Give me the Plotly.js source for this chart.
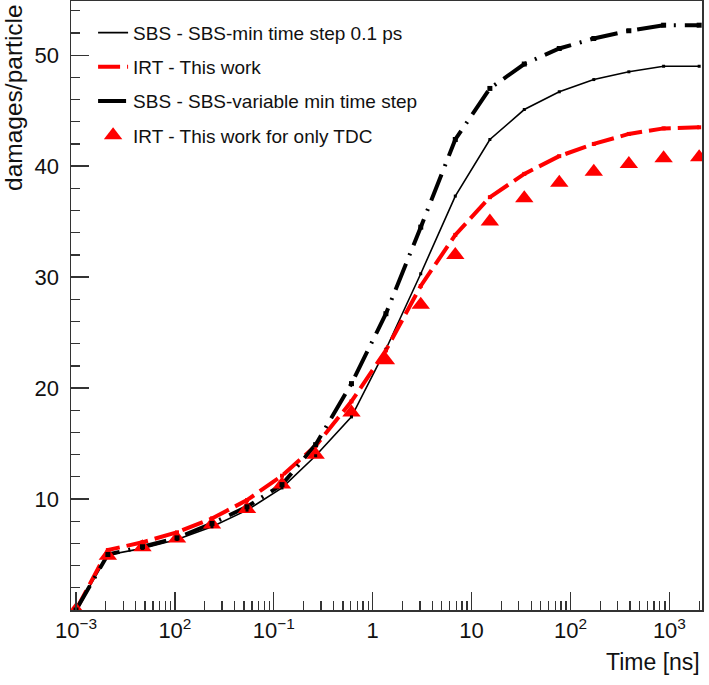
<!DOCTYPE html>
<html>
<head>
<meta charset="utf-8">
<script src="https://cdn.plot.ly/plotly-3.0.1.min.js"></script>
<style>html,body{margin:0;padding:0;background:#fff;}#chart{width:709px;height:685px;}</style>
</head>
<body>
<div id="chart"></div>
<script>
// Time points [ns]
const timeNs = [0.001, 0.0021, 0.0047, 0.0105, 0.0237, 0.0536, 0.121, 0.265, 0.61, 1.36, 3.06, 6.84, 15.3, 34.1, 77, 172, 389, 874, 2000];
// SBS - SBS-min time step 0.1 ps
const sbsMin = [0, 4.95, 5.55, 6.35, 7.5, 9.0, 11.0, 13.9, 17.4, 23.5, 30.3, 37.3, 42.4, 45.1, 46.7, 47.8, 48.5, 49.0, 49.0];
// IRT - This work
const irtFull = [0, 5.4, 6.1, 7.0, 8.25, 9.9, 12.1, 14.8, 18.8, 23.4, 29.2, 33.8, 37.2, 39.3, 40.9, 42.0, 42.9, 43.4, 43.5];
// SBS - SBS-variable min time step
const sbsVar = [0, 5.0, 5.7, 6.5, 7.8, 9.3, 11.3, 14.9, 20.4, 26.7, 34.5, 42.4, 47.0, 49.2, 50.6, 51.5, 52.2, 52.7, 52.7];
// IRT - This work for only TDC
const irtTdc = [0, 4.9, 5.65, 6.45, 7.7, 9.1, 11.3, 14.0, 17.8, 22.5, 27.5, 32.0, 35.0, 37.1, 38.5, 39.5, 40.2, 40.7, 40.8];

const xTickVals = [0.001, 0.01, 0.1, 1, 10, 100, 1000];
const xTickText = ['10<sup>\u22123</sup>', '10<sup>2</sup>', '10<sup>\u22121</sup>', '1', '10', '10<sup>2</sup>', '10<sup>3</sup>'];
const yTickVals = [10, 20, 30, 40, 50];
const yTickText = ['10', '20', '30', '40', '50'];

const names = ['SBS - SBS-min time step 0.1 ps', 'IRT - This work', 'SBS - SBS-variable min time step', 'IRT - This work for only TDC'];

const FONT = 'Liberation Sans, Arial, sans-serif';

const traces = [
  {x: timeNs, y: sbsMin, name: names[0], mode: 'lines', legendgroup: 'a',
   line: {color: '#000', width: 1.6}},
  {x: timeNs, y: irtFull, name: names[1], mode: 'lines', legendgroup: 'b',
   line: {color: '#ff0000', width: 4, dash: '22px,7px'}},
  {x: timeNs, y: sbsVar, name: names[2], mode: 'lines', legendgroup: 'c',
   line: {color: '#000', width: 4, dash: '28px,9px,2px,9px'}},
  {x: timeNs, y: irtTdc, name: names[3], mode: 'markers', legendgroup: 'd',
   marker: {symbol: 'triangle-up', size: 16, color: '#ff0000'}},
  // point markers on the lines (not in legend)
  {x: timeNs, y: sbsMin, mode: 'markers', showlegend: false, hoverinfo: 'skip', legendgroup: 'a',
   marker: {symbol: 'square', size: 3, color: '#000'}},
  {x: timeNs, y: irtFull, mode: 'markers', showlegend: false, hoverinfo: 'skip', legendgroup: 'b',
   marker: {symbol: 'square', size: 4, color: '#ff0000'}},
  {x: timeNs, y: sbsVar, mode: 'markers', showlegend: false, hoverinfo: 'skip', legendgroup: 'c',
   marker: {symbol: 'square', size: 5, color: '#000'}}
];

const layout = {
  width: 709, height: 685,
  margin: {l: 71, r: 7, t: 1, b: 75, pad: 0},
  paper_bgcolor: '#fff', plot_bgcolor: '#fff',
  font: {family: FONT, color: '#111'},
  showlegend: true,
  legend: {x: 0.035, y: 0.979, xanchor: 'left', yanchor: 'top',
    bgcolor: 'rgba(0,0,0,0)', borderwidth: 0,
    font: {family: FONT, size: 19, color: '#111'}, tracegroupgap: 6.5,
    traceorder: 'grouped'},
  xaxis: {type: 'log', range: [-3.0506, 3.3296],
    tickmode: 'array', tickvals: xTickVals, ticktext: xTickText,
    ticks: 'inside', ticklen: 18, tickwidth: 1.3, tickcolor: '#333',
    minor: {ticks: 'inside', ticklen: 9, tickwidth: 1.3, tickcolor: '#333', dtick: 'D1'},
    showline: true, linecolor: '#333', linewidth: 1.5, mirror: true,
    showgrid: false, zeroline: false,
    tickfont: {family: FONT, size: 22, color: '#111'}, ticklabelstandoff: 0},
  yaxis: {range: [0, 54.88],
    tickmode: 'array', tickvals: yTickVals, ticktext: yTickText,
    ticks: 'inside', ticklen: 18, tickwidth: 1.3, tickcolor: '#333',
    minor: {ticks: 'inside', ticklen: 9, tickwidth: 1.3, tickcolor: '#333', dtick: 2, tick0: 0},
    showline: true, linecolor: '#333', linewidth: 1.5, mirror: true,
    showgrid: false, zeroline: false,
    tickfont: {family: FONT, size: 22, color: '#111'}, ticklabelstandoff: 6},
  annotations: [
    {text: 'damages/particle', textangle: -90, xref: 'paper', yref: 'paper',
     x: -0.09, y: 0.998, xanchor: 'center', yanchor: 'top', showarrow: false,
     font: {family: FONT, size: 24.5, color: '#111'}},
    {text: 'Time [ns]', xref: 'paper', yref: 'paper', x: 1.0, y: -0.0854,
     xanchor: 'right', yanchor: 'middle', showarrow: false,
     font: {family: FONT, size: 23, color: '#111'}}
  ]
};

Plotly.newPlot('chart', traces, layout, {staticPlot: true, displayModeBar: false});
</script>
</body>
</html>
